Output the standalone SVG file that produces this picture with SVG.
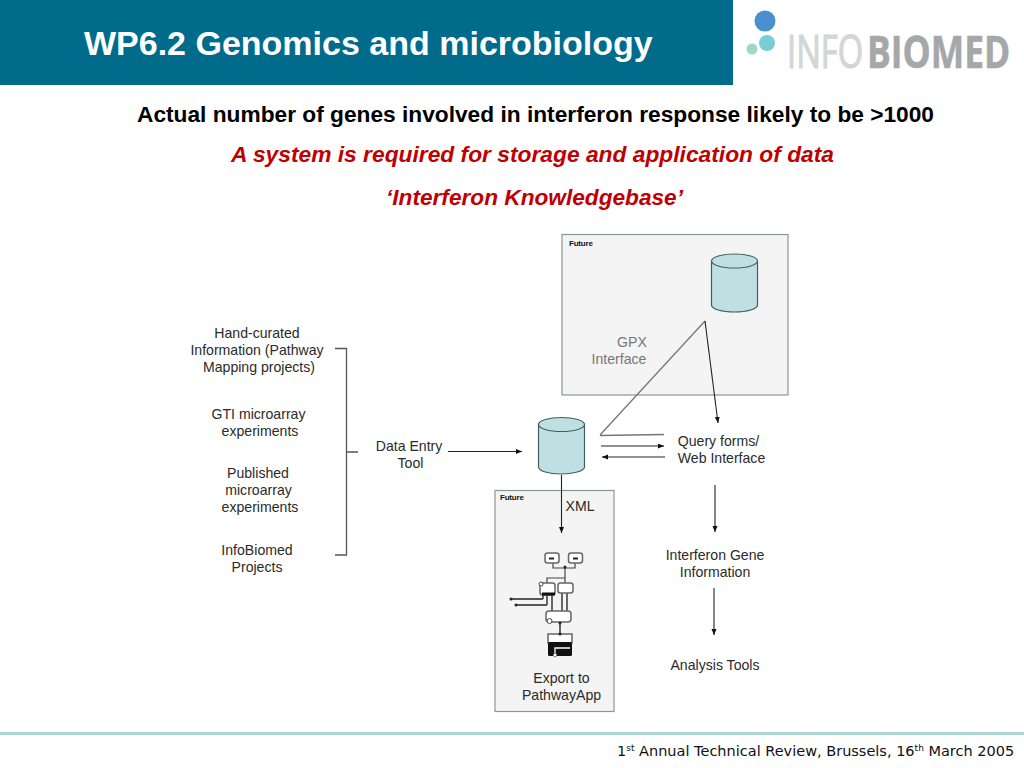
<svg xmlns="http://www.w3.org/2000/svg" width="1024" height="768" viewBox="0 0 1024 768">
<style>
text{font-family:"Liberation Sans",Arial,sans-serif}
.t{font-size:14.1px;fill:#2b2b2b;text-anchor:middle}
.g{font-size:14.1px;fill:#777;text-anchor:middle}
.f{font-size:8px;fill:#111;font-weight:bold;letter-spacing:-.2px}
.box{fill:#f4f4f4;stroke:#8f9494;stroke-width:1.2}
.cyl{fill:#c0dfe2;stroke:#3f5f60;stroke-width:1.2}
.c{fill:none;stroke:#222;stroke-width:1.1}
.cg{fill:none;stroke:#777;stroke-width:1.3}
.br{fill:none;stroke:#555;stroke-width:1.3}
.s{fill:#fff;stroke:#666;stroke-width:1.5}
.w{fill:none;stroke:#444;stroke-width:1.2}
.v{fill:none;stroke:#444;stroke-width:1.6}
.k{fill:none;stroke:#222;stroke-width:1.3}
.h{font-size:22px;font-weight:bold;text-anchor:middle}
.lg{font-family:"Open Sans","Liberation Sans",sans-serif;font-size:45px}
</style>
<defs>
<marker id="a" markerWidth="8" markerHeight="8" refX="6" refY="2.500" orient="auto" markerUnits="userSpaceOnUse"><path d="M0 0L6 2.500L0 5Z" fill="#111"/></marker>
</defs>
<rect width="1024" height="768" fill="#fff"/>
<g id="header">
<rect x="0" y="0" width="733" height="85" fill="#006b8a"/>
<text x="84" y="55" font-size="34" font-weight="bold" fill="#fff">WP6.2 Genomics and microbiology</text>
</g>
<g id="logo">
<circle cx="765" cy="21" r="10.500" fill="#4a8fcf"/>
<circle cx="767" cy="43" r="8" fill="#79cdd6"/>
<circle cx="752" cy="49" r="5.500" fill="#a0d8c8"/>
<text class="lg" transform="translate(787 68) scale(.68 1)" fill="#d3d6d6" stroke="#d3d6d6" stroke-width="1.200" textLength="112" lengthAdjust="spacingAndGlyphs">INFO</text>
<text class="lg" transform="translate(867 68) scale(.8 1)" font-weight="bold" fill="#a5a8a9" stroke="#a5a8a9" stroke-width=".6" textLength="179" lengthAdjust="spacingAndGlyphs">BIOMED</text>
</g>
<g id="headings">
<text class="h" x="535.500" y="122" fill="#000" textLength="797" lengthAdjust="spacingAndGlyphs">Actual number of genes involved in interferon response likely to be &gt;1000</text>
<text class="h" x="532.500" y="162" fill="#c00000" font-style="italic" textLength="603" lengthAdjust="spacingAndGlyphs">A system is required for storage and application of data</text>
<text class="h" x="534.500" y="205" fill="#c00000" font-style="italic" textLength="297" lengthAdjust="spacingAndGlyphs">‘Interferon Knowledgebase’</text>
</g>
<g id="future-gpx">
<rect class="box" x="562" y="234.500" width="226" height="160.500"/>
<text class="f" x="569" y="246">Future</text>
<text class="g" x="632" y="347">GPX</text>
<text class="g" x="619" y="364">Interface</text>
</g>
<g id="db-gpx">
<path class="cyl" d="M711.500 262V305C711.500 309 722 312 734.500 312S757.500 309 757.500 305V262Z"/>
<ellipse class="cyl" cx="734.500" cy="261" rx="23" ry="7"/>
</g>
<g id="future-xml">
<rect class="box" x="495" y="490.500" width="119" height="221"/>
<text class="f" x="500" y="500">Future</text>
<text class="t" x="580" y="511">XML</text>
<text class="t" x="561.500" y="683">Export to</text>
<text class="t" x="561.500" y="700">PathwayApp</text>
</g>
<g id="pathway-icon">
<path class="w" d="M553 563V568H575V563M565 567V583M547 583V578H565"/>
<path class="k" d="M511 599H543M516 605H547"/>
<path class="v" d="M543 595V599M547 595V605M552 595V612M562 593V612M567 593V612M560 622V634"/>
<circle cx="511" cy="599" r="1.500" fill="#222"/><circle cx="516" cy="605" r="1.500" fill="#222"/>
<rect class="s" x="545" y="553" width="14" height="10" rx="2.500"/>
<rect class="s" x="568.500" y="553" width="14" height="10" rx="2.500"/>
<rect class="s" x="540" y="583" width="15" height="12" rx="2.500"/>
<rect class="s" x="558" y="583" width="15" height="10" rx="2.500"/>
<rect class="s" x="546" y="611" width="25" height="11" rx="3"/>
<rect class="s" x="548" y="634" width="24" height="9"/>
<rect x="548" y="642" width="24" height="14" rx="1.500" fill="#111"/>
<path d="M555 655V648H570" fill="none" stroke="#fff" stroke-width="1.300"/>
<circle cx="555" cy="655" r="1.800" fill="#fff" stroke="#444" stroke-width=".6"/>
<circle cx="549.500" cy="621" r="2.500" fill="#fff" stroke="#444"/>
<circle cx="541" cy="584" r="2" fill="#fff" stroke="#444"/>
<path d="M542 594h13" stroke="#111" stroke-width="3"/>
<path d="M549 558.500h5M573 558.500h5" stroke="#222" stroke-width="2"/>
<circle cx="565" cy="567" r="1.500" fill="#222"/>
<circle cx="560" cy="623" r="1.500" fill="#222"/><circle cx="560" cy="634" r="1.500" fill="#222"/>
</g>
<g id="db-main">
<path class="cyl" d="M538.500 424V467C538.500 471 549 474 561 474S584.500 471 584.500 467V424Z"/>
<ellipse class="cyl" cx="561.500" cy="424.500" rx="23" ry="7"/>
</g>
<g id="sources">
<text class="t" x="257" y="338">Hand-curated</text>
<text class="t" x="257" y="355">Information (Pathway</text>
<text class="t" x="259" y="372">Mapping projects)</text>
<text class="t" x="258.500" y="419">GTI microarray</text>
<text class="t" x="260" y="436">experiments</text>
<text class="t" x="258" y="478">Published</text>
<text class="t" x="258.500" y="495">microarray</text>
<text class="t" x="260" y="512">experiments</text>
<text class="t" x="257" y="555">InfoBiomed</text>
<text class="t" x="257" y="572">Projects</text>
</g>
<g id="data-entry">
<text class="t" x="409" y="451">Data Entry</text>
<text class="t" x="410.500" y="468">Tool</text>
</g>
<g id="query">
<text class="t" x="718.500" y="446">Query forms/</text>
<text class="t" x="721.500" y="463">Web Interface</text>
</g>
<g id="gene-info">
<text class="t" x="715" y="560">Interferon Gene</text>
<text class="t" x="715" y="577">Information</text>
</g>
<g id="analysis">
<text class="t" x="715" y="670">Analysis Tools</text>
</g>
<g id="connectors">
<path class="br" d="M335 348.500H346.500V555H335M346.500 452H358"/>
<path class="c" d="M448 451.500H522" marker-end="url(#a)"/>
<path class="c" d="M561.500 475V533" marker-end="url(#a)"/>
<path class="cg" d="M600 435L705 321M600 435.500L664 434.500"/>
<path class="c" d="M705 321L718 423" marker-end="url(#a)"/>
<path class="c" d="M601 446H664" marker-end="url(#a)"/>
<path class="c" d="M665 457H602" marker-end="url(#a)"/>
<path class="c" d="M715 485V532" marker-end="url(#a)"/>
<path class="c" d="M714 588V635" marker-end="url(#a)"/>
</g>
<g id="footer">
<rect x="0" y="732" width="1024" height="3" fill="#aad8cc"/>
<text x="617" y="756" font-size="14.500" fill="#111" style="font-family:'DejaVu Sans',Verdana,sans-serif">1<tspan font-size="9" dy="-5">st</tspan><tspan dy="5"> Annual Technical Review, Brussels, 16</tspan><tspan font-size="9" dy="-5">th</tspan><tspan dy="5"> March 2005</tspan></text>
</g>
</svg>
